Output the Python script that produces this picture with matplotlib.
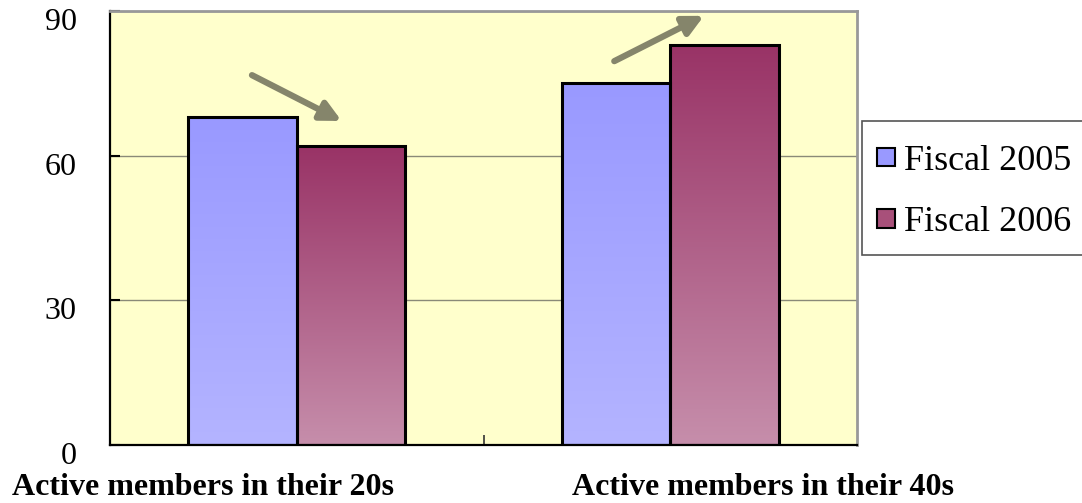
import numpy as np
import matplotlib
matplotlib.use("Agg")
import matplotlib.pyplot as plt
from matplotlib.colors import LinearSegmentedColormap
from matplotlib.patches import Rectangle, Patch
from matplotlib.transforms import ScaledTranslation

# Data
categories = ["Active members in their 20s", "Active members in their 40s"]
series_names = ["Fiscal 2005", "Fiscal 2006"]
fiscal_2005 = [68, 75]
fiscal_2006 = [62, 83]
y_ticks = [0, 30, 60, 90]

# Trend arrows (tail -> head) in data coordinates
arrow_tails = [(-0.12, 76.7), (0.85, 79.6)]
arrow_heads = [(0.12, 67.2), (1.09, 89.0)]

SERIF = ["Liberation Serif", "DejaVu Serif"]
plt.rcParams["font.family"] = SERIF

fig = plt.figure(figsize=(10.82, 5.03), dpi=100)
ax = fig.add_axes([0.1017, 0.1153, 0.6904, 0.8628])
ax.set_facecolor("#FFFFCC")

x = np.arange(len(categories))
width = 0.29

grad_colors = [("#9999FF", "#B4B4FF"), ("#993366", "#C68EAB")]
flat_colors = ["#9999FF", "#A8507A"]

bars_all = []
for i, vals in enumerate([fiscal_2005, fiscal_2006]):
    offs = (i - 0.5) * width
    bars = ax.bar(x + offs, vals, width, color="none", edgecolor="black",
                  linewidth=2.2, zorder=3)
    bars_all.append((bars, grad_colors[i]))

# Vertical gradient fill for each bar
grad = np.linspace(0, 1, 256).reshape(-1, 1)
for bars, (top_c, bot_c) in bars_all:
    cmap = LinearSegmentedColormap.from_list("g", [top_c, bot_c])
    for b in bars:
        x0, y0 = b.get_x(), b.get_y()
        w, h = b.get_width(), b.get_height()
        ax.imshow(grad, cmap=cmap, aspect="auto",
                  extent=[x0, x0 + w, y0, y0 + h], origin="upper",
                  zorder=2, interpolation="bilinear")

ax.set_xlim(-0.5, 1.5)
ax.set_ylim(0, 90)

# Grid lines
ax.set_yticks(y_ticks)
ax.yaxis.grid(True, color="#8A8A78", linewidth=1.0, zorder=1)
ax.set_axisbelow(True)

# Spines
ax.spines["left"].set_color("black")
ax.spines["left"].set_linewidth(1.6)
ax.spines["bottom"].set_color("black")
ax.spines["bottom"].set_linewidth(1.6)
ax.spines["top"].set_color("#999999")
ax.spines["top"].set_linewidth(2.0)
ax.spines["right"].set_color("#999999")
ax.spines["right"].set_linewidth(2.0)

ax.tick_params(axis="y", direction="in", length=7, width=1.5, color="black",
               labelsize=23, pad=24)
ax.set_xticks([0.5])
ax.set_xticklabels([""])
ax.tick_params(axis="x", direction="in", length=7, width=1.2, color="#333333")

for lbl in ax.get_yticklabels():
    lbl.set_transform(lbl.get_transform() +
                      ScaledTranslation(0, -8 / 100, fig.dpi_scale_trans))

# Category labels
label_x = [12 / 1082, 572 / 1082]
for lx, cat in zip(label_x, categories):
    fig.text(lx, 8 / 503, cat, ha="left", va="baseline", fontsize=23,
             fontweight="bold")

# Trend arrows
for tail, head in zip(arrow_tails, arrow_heads):
    ax.annotate("", xy=head, xytext=tail,
                arrowprops=dict(arrowstyle="-|>", color="#85856B", lw=4.5,
                                mutation_scale=30, shrinkA=0, shrinkB=0),
                zorder=4)

# Legend box
fig.patches.append(Rectangle((862 / 1082, 1 - 255 / 503), 0.3, (255 - 121) / 503,
                             transform=fig.transFigure, facecolor="white",
                             edgecolor="#555555", linewidth=1.2))
handles = [Patch(facecolor=c, edgecolor="black", linewidth=1.5) for c in flat_colors]
leg = fig.legend(handles, series_names, loc="upper left",
                 bbox_to_anchor=(877 / 1082, 1 - 145 / 503),
                 frameon=False, fontsize=26, handlelength=0.5, handleheight=0.42,
                 handletextpad=0.25, labelspacing=0.78, borderaxespad=0,
                 borderpad=0)

fig.savefig("out.png", dpi=100)
